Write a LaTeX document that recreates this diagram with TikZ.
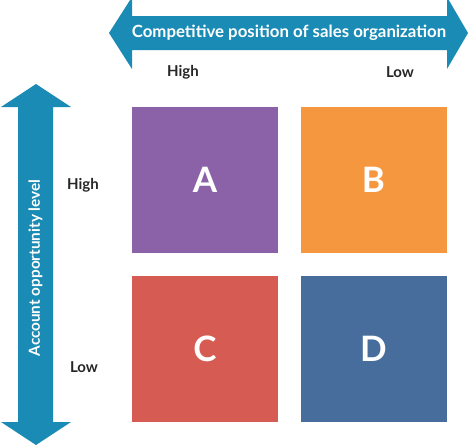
\documentclass[tikz,border=0pt]{standalone}
\usepackage{fontspec}
\setmainfont{Lato}
\usetikzlibrary{positioning}
\definecolor{arrowblue}{HTML}{1A8BB5}
\definecolor{quadA}{HTML}{8B62A8}
\definecolor{quadB}{HTML}{F5973F}
\definecolor{quadC}{HTML}{D65B52}
\definecolor{quadD}{HTML}{476D9C}
\begin{document}
\begin{tikzpicture}[
    x=1pt, y=-1pt,
    quad/.style={fill=#1,draw=none,minimum size=146pt,inner sep=0pt,
        text=white,font=\bfseries\fontsize{35}{35}\selectfont},
    axislabel/.style={font=\bfseries\fontsize{15}{17}\selectfont,text=black!85},
    arrowtext/.style={font=\bfseries\fontsize{16.8}{19}\selectfont,text=white,inner sep=0pt}
]
\useasboundingbox (0,0) rectangle (469,445);
% axes arrows
\fill[arrowblue] (109,33) -- (132,-3) -- (132,16) -- (447,16) -- (447,-3)
    -- (468,33) -- (447,69) -- (447,50) -- (132,50) -- (132,69) -- cycle;
\fill[arrowblue] (36,84) -- (71,107) -- (53,107) -- (53,422) -- (71,422)
    -- (36,445) -- (1,422) -- (18,422) -- (18,107) -- (1,107) -- cycle;
\node[arrowtext] (toptitle) at (289,33) {Competitive position of sales organization};
\node[arrowtext,rotate=90,font=\bfseries\fontsize{15.3}{17}\selectfont] (sidetitle) at (35.5,268) {Account opportunity level};
% quadrants
\node[quad=quadA] (qa) at (205,180) {A};
\node[quad=quadB] (qb) at (373.5,180) {B};
\node[quad=quadC] (qc) at (205,349) {C};
\node[quad=quadD] (qd) at (373.5,349) {D};
% axis labels
\node[axislabel] (hhigh) at (183,72) {High};
\node[axislabel] (hlow) at (400,72) {Low};
\node[axislabel] (vhigh) at (83,185) {High};
\node[axislabel] (vlow) at (84,367) {Low};
\end{tikzpicture}
\end{document}
